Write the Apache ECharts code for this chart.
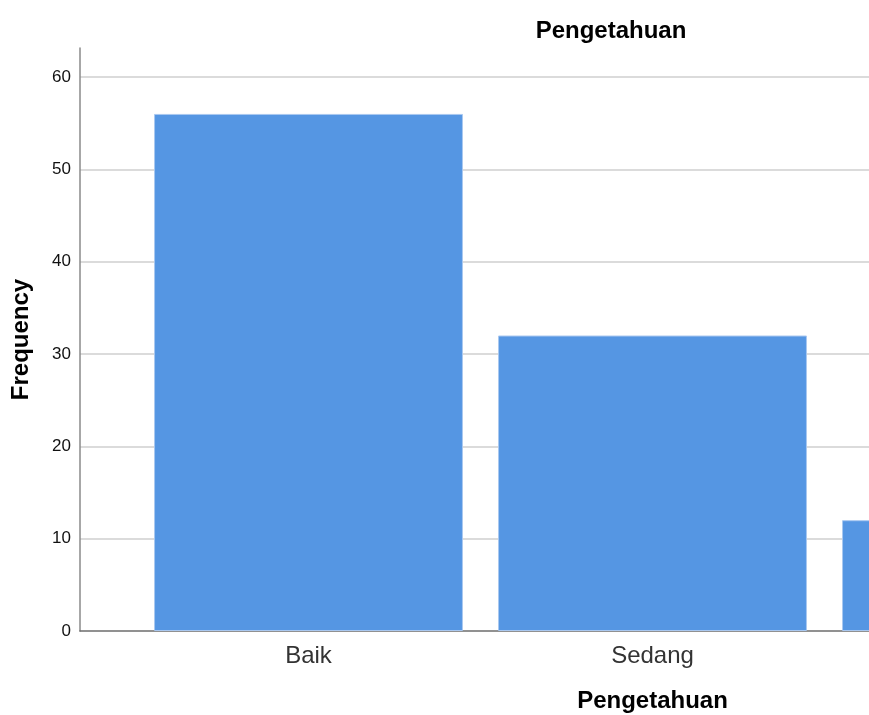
<!DOCTYPE html>
<html>
<head>
<meta charset="utf-8">
<script src="https://cdn.jsdelivr.net/npm/echarts@6/dist/echarts.min.js"></script>
<style>
html,body{margin:0;padding:0;background:#fff;}
#c{width:869px;height:715px;}
</style>
</head>
<body>
<div id="c"></div>
<script>
const categories = ["Baik", "Sedang", "Kurang"];
const frequency = [56, 32, 12];
const yTicks = [0, 10, 20, 30, 40, 50, 60];

const chart = echarts.init(document.getElementById('c'), null, {renderer: 'canvas'});
const FONT = '"Liberation Sans", Arial, sans-serif';
const yMax = 63.14;
chart.setOption({
  backgroundColor: '#ffffff',
  animation: false,
  title: {
    text: 'Pengetahuan',
    left: 606, top: 14, textAlign: 'center',
    textStyle: {fontFamily: FONT, fontSize: 24, fontWeight: 'bold', color: '#000'}
  },
  grid: [
    {left: 80, top: 48, bottom: 84, right: 0, outerBoundsMode: 'none', containLabel: false},
    {left: 136.5, top: 48, bottom: 84, right: -299.5, outerBoundsMode: 'none', containLabel: false}
  ],
  xAxis: [
    {gridIndex: 0, type: 'category', data: [''], axisTick: {show: false}, axisLabel: {show: false},
     axisLine: {lineStyle: {color: '#6e6e6e', width: 1.5}}},
    {gridIndex: 1, type: 'category', data: categories, axisTick: {show: false},
     axisLine: {show: false},
     axisLabel: {margin: 13, fontFamily: FONT, fontSize: 24, color: '#333'},
     name: 'Pengetahuan', nameLocation: 'middle', nameGap: 58,
     nameTextStyle: {fontFamily: FONT, fontSize: 24, fontWeight: 'bold', color: '#000'}}
  ],
  yAxis: [
    {gridIndex: 0, type: 'value', min: 0, max: yMax, interval: 10,
     axisLine: {show: true, lineStyle: {color: '#8a8a8a', width: 1.5}},
     axisTick: {show: false},
     axisLabel: {margin: 9, fontFamily: FONT, fontSize: 17, color: '#111',
       showMaxLabel: false,
       formatter: v => yTicks.includes(v) ? String(v) : ''},
     splitLine: {show: true, showMaxLine: false, showMinLine: false, lineStyle: {color: '#cfcfcf', width: 1.5}},
     name: 'Frequency', nameLocation: 'middle', nameGap: 47, nameRotate: 90,
     nameTextStyle: {fontFamily: FONT, fontSize: 24, fontWeight: 'bold', color: '#000'}},
    {gridIndex: 1, type: 'value', min: 0, max: yMax, interval: 10, show: false,
     splitLine: {show: false}}
  ],
  series: [{
    type: 'bar', xAxisIndex: 1, yAxisIndex: 1,
    data: frequency, barWidth: '89.8%',
    itemStyle: {color: '#5596e3', borderColor: '#a9c8f0', borderWidth: 1},
    silent: true
  }]
});
</script>
</body>
</html>
